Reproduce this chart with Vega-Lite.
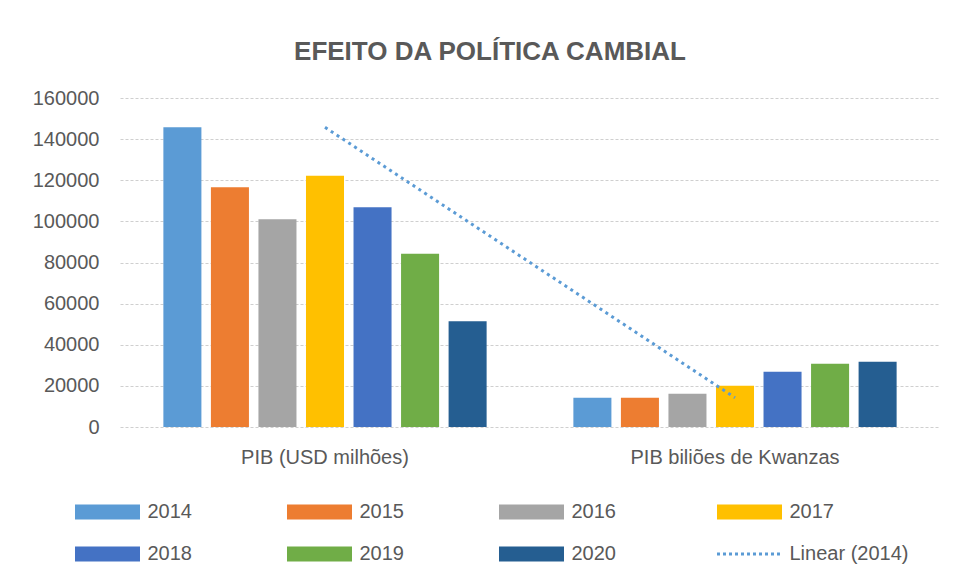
{
  "$schema": "https://vega.github.io/schema/vega-lite/v6.json",
  "width": 820,
  "height": 329,
  "autosize": {"type": "none"},
  "padding": {"left": 120, "top": 98, "right": 14, "bottom": 156},
  "background": "white",
  "title": {
    "text": "EFEITO DA POLÍTICA CAMBIAL",
    "font": "Liberation Sans",
    "fontSize": 26,
    "fontWeight": "bold",
    "color": "#595959",
    "anchor": "middle",
    "dx": -40,
    "offset": 23
  },
  "config": {
    "view": {"stroke": null},
    "font": "Liberation Sans"
  },
  "data": {
    "values": [
      {"cat": "PIB (USD milhões)", "year": "2014", "value": 145750},
      {"cat": "PIB (USD milhões)", "year": "2015", "value": 116550},
      {"cat": "PIB (USD milhões)", "year": "2016", "value": 101000},
      {"cat": "PIB (USD milhões)", "year": "2017", "value": 122200},
      {"cat": "PIB (USD milhões)", "year": "2018", "value": 106850},
      {"cat": "PIB (USD milhões)", "year": "2019", "value": 84300},
      {"cat": "PIB (USD milhões)", "year": "2020", "value": 51400},
      {"cat": "PIB biliões de Kwanzas", "year": "2014", "value": 14250},
      {"cat": "PIB biliões de Kwanzas", "year": "2015", "value": 14250},
      {"cat": "PIB biliões de Kwanzas", "year": "2016", "value": 16200},
      {"cat": "PIB biliões de Kwanzas", "year": "2017", "value": 20100},
      {"cat": "PIB biliões de Kwanzas", "year": "2018", "value": 26900},
      {"cat": "PIB biliões de Kwanzas", "year": "2019", "value": 30800},
      {"cat": "PIB biliões de Kwanzas", "year": "2020", "value": 31750}
    ]
  },
  "encoding": {
    "x": {
      "field": "cat",
      "type": "nominal",
      "sort": null,
      "scale": {"paddingInner": 0.2, "paddingOuter": 0.1},
      "axis": {
        "title": null,
        "labelAngle": 0,
        "labelLimit": 0,
        "ticks": false,
        "domain": false,
        "grid": false,
        "labelPadding": 20,
        "labelFont": "Liberation Sans",
        "labelFontSize": 20,
        "labelColor": "#595959"
      }
    },
    "y": {
      "field": "value",
      "type": "quantitative",
      "scale": {"domain": [0, 160000], "nice": false},
      "axis": {
        "title": null,
        "values": [0, 20000, 40000, 60000, 80000, 100000, 120000, 140000, 160000],
        "format": "d",
        "ticks": false,
        "domain": false,
        "grid": true,
        "gridColor": "#cfcfcf",
        "gridDash": [3, 2],
        "gridWidth": 1,
        "labelPadding": 21,
        "labelFont": "Liberation Sans",
        "labelFontSize": 20,
        "labelColor": "#595959"
      }
    }
  },
  "layer": [
    {
      "mark": {"type": "bar"},
      "encoding": {
        "xOffset": {
          "field": "year",
          "type": "nominal",
          "scale": {"paddingInner": 0.2, "paddingOuter": 0.05}
        },
        "color": {
          "field": "year",
          "type": "nominal",
          "scale": {
            "domain": ["2014", "2015", "2016", "2017", "2018", "2019", "2020", "Linear (2014)"],
            "range": ["#5b9bd5", "#ed7d31", "#a5a5a5", "#ffc000", "#4472c4", "#70ad47", "#255e91", "#5b9bd5"]
          },
          "legend": {
            "title": null,
            "orient": "none",
            "legendX": -22.5,
            "legendY": 404,
            "direction": "horizontal",
            "columns": 4,
            "gridAlign": "each",
            "padding": 0,
            "symbolType": "M-2.1667,-0.5H2.1667V0.5H-2.1667Z",
            "symbolSize": 900,
            "labelOffset": 30,
            "columnPadding": 94,
            "rowPadding": 22,
            "labelFont": "Liberation Sans",
            "labelFontSize": 20,
            "labelColor": "#595959",
            "encode": {
              "symbols": {
                "update": {
                  "shape": {"signal": "datum.label === 'Linear (2014)' ? 'M-2.1667,0H2.1667' : 'M-2.1667,-0.5H2.1667V0.5H-2.1667Z'"},
                  "fillOpacity": {"signal": "datum.label === 'Linear (2014)' ? 0 : 1"},
                  "stroke": {"signal": "datum.label === 'Linear (2014)' ? '#5b9bd5' : 'transparent'"},
                  "strokeWidth": {"signal": "datum.label === 'Linear (2014)' ? 3 : 0"},
                  "strokeDash": {"signal": "datum.label === 'Linear (2014)' ? [3, 3] : [1, 0]"}
                }
              }
            }
          }
        }
      }
    },
    {
      "transform": [{"filter": "datum.year === '2014'"}],
      "mark": {"type": "line", "color": "#5b9bd5", "strokeWidth": 3, "strokeDash": [3, 4]},
      "encoding": {}
    }
  ]
}
